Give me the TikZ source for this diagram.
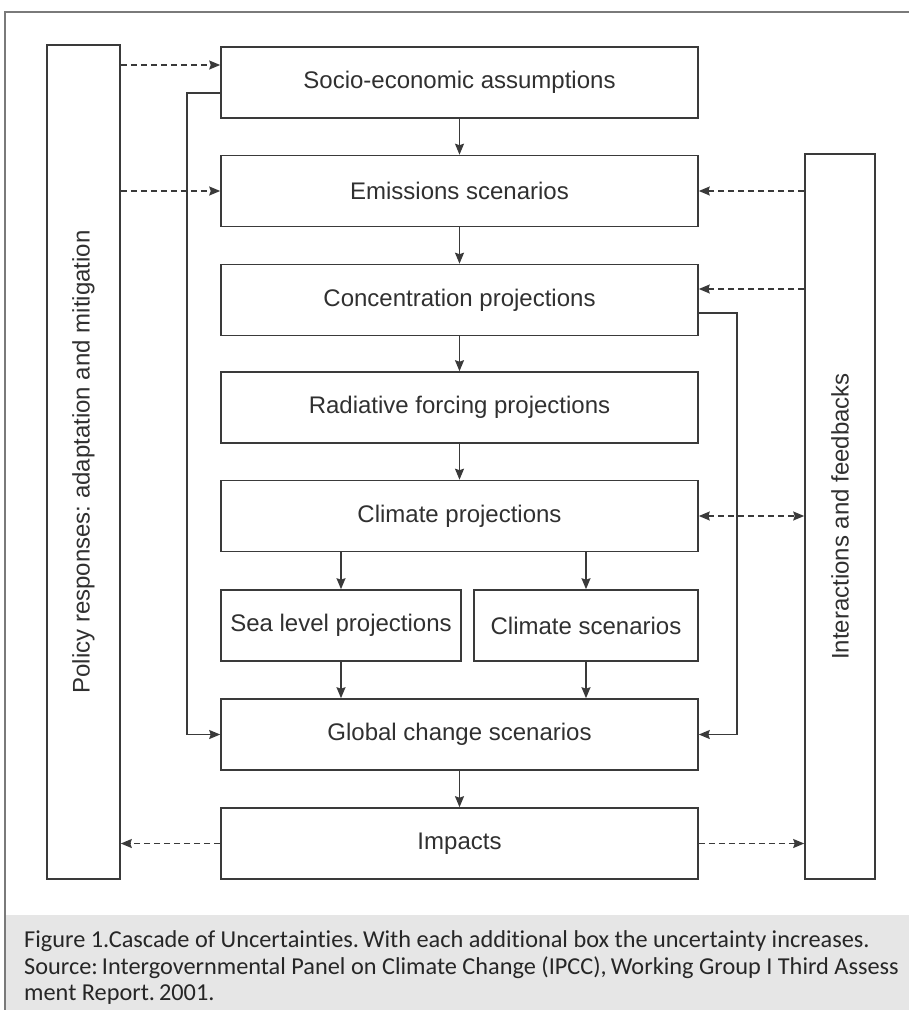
\documentclass[tikz,border=0pt]{standalone}
\usepackage{fontspec}
\setmainfont{Liberation Sans}
\newfontfamily\capfont[RawFeature=-liga]{Carlito}
\usetikzlibrary{arrows.meta}
\frenchspacing
\definecolor{linecol}{HTML}{3A3A3A}
\definecolor{framecol}{HTML}{7A7A7A}
\definecolor{capbg}{HTML}{E6E6E6}
\definecolor{txtcol}{HTML}{303030}
\definecolor{captxt}{HTML}{262626}
\tikzset{
  box/.style={draw=linecol, line width=1.6pt, inner sep=0pt, minimum height=71pt,
    text=txtcol, font=\fontsize{24pt}{28pt}\selectfont},
  widebox/.style={box, minimum width=477pt},
  tallbox/.style={draw=linecol, line width=1.6pt, inner sep=0pt},
  vtext/.style={rotate=90, inner sep=0pt, text=txtcol, font=\fontsize{24pt}{28pt}\selectfont},
  arr/.style={draw=linecol, line width=1.5pt, -{Stealth[length=11pt,width=9pt,inset=1.5pt]}},
  darr/.style={draw=linecol, line width=1.5pt, dash pattern=on 6pt off 4pt,
    -{Stealth[length=11pt,width=9pt,inset=1.5pt]}},
  dbarr/.style={darr, {Stealth[length=11pt,width=9pt,inset=1.5pt]}-{Stealth[length=11pt,width=9pt,inset=1.5pt]}},
  captext/.style={anchor=base west, inner sep=0pt, text=captxt, font=\capfont\fontsize{24.3pt}{27pt}\selectfont}
}
\begin{document}
\begin{tikzpicture}[x=1pt, y=-1pt]
\useasboundingbox (0,0) rectangle (909,1010);
% caption background and frame
\fill[capbg] (5,915) rectangle (915,1015);
\draw[framecol, line width=1.5pt] (5,1020) -- (5,12) -- (920,12);
% side boxes
\node[tallbox, minimum width=73pt, minimum height=834pt] (lbox) at (83.5,462) {};
\node[vtext] (ltxt) at (lbox.center) {Policy responses: adaptation and mitigation};
\node[tallbox, minimum width=70pt, minimum height=725pt] (rbox) at (840,516.5) {};
\node[vtext] (rtxt) at (rbox.center) {Interactions and feedbacks};
% main boxes
\node[widebox] (socio) at (459.5,82.5) {Socio-economic assumptions};
\node[widebox] (emis) at (459.5,191) {Emissions scenarios};
\node[widebox] (conc) at (459.5,300) {Concentration projections};
\node[widebox] (rad) at (459.5,407.5) {Radiative forcing projections};
\node[widebox] (clim) at (459.5,516) {Climate projections};
\node[box, minimum width=240pt] (sea) at (341,625.5) {Sea level projections};
\node[box, minimum width=224pt] (cscen) at (586,625.5) {Climate scenarios};
\node[widebox] (glob) at (459.5,734.5) {Global change scenarios};
\node[widebox] (imp) at (459.5,843.5) {Impacts};
% solid arrows
\draw[arr] (socio) -- (emis);
\draw[arr] (emis) -- (conc);
\draw[arr] (conc) -- (rad);
\draw[arr] (rad) -- (clim);
\draw[arr] (clim.south -| sea.north) -- (sea.north);
\draw[arr] (clim.south -| cscen.north) -- (cscen.north);
\draw[arr] (sea.south) -- (sea.south |- glob.north);
\draw[arr] (cscen.south) -- (cscen.south |- glob.north);
\draw[arr] (glob) -- (imp);
\draw[arr] ([yshift=-10.5pt]socio.west) -- ++(-33,0) |- (glob.west);
\draw[arr] ([yshift=-13pt]conc.east) -- ++(38,0) |- (glob.east);
% dashed arrows
\coordinate (s1) at ([yshift=17.5pt]socio.west);
\coordinate (c1) at ([yshift=11pt]conc.east);
\draw[darr] (lbox.east |- s1) -- (s1);
\draw[darr] (lbox.east |- emis.west) -- (emis.west);
\draw[darr] (rbox.west |- emis.east) -- (emis.east);
\draw[darr] (rbox.west |- c1) -- (c1);
\draw[dbarr] (clim.east) -- (rbox.west |- clim.east);
\draw[darr] (imp.west) -- (lbox.east |- imp.west);
\draw[darr] (imp.east) -- (rbox.west |- imp.east);
% caption
\node[captext] (cap1) at (24,947) {Figure 1.Cascade of Uncertainties.\,With each additional box the uncertainty increases.};
\node[captext] (cap2) at (24,974) {Source:\,Intergovernmental Panel on Climate Change (IPCC),\,Working Group I Third Assess};
\node[captext] (cap3) at (24,1000) {ment Report.\,2001.};
\end{tikzpicture}
\end{document}
